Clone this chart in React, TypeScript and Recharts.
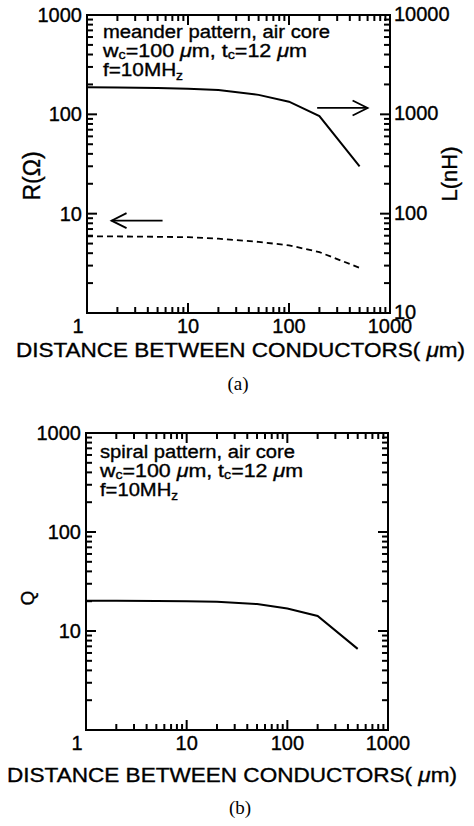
import React from "react";
import { LineChart, Line, XAxis, YAxis, ReferenceArea, ReferenceLine } from "recharts";

// distance between conductors (µm)
const distance = [1, 2, 5, 10, 20, 50, 100, 200, 500];
// (a) meander pattern
const resistance = [5.9, 5.9, 5.85, 5.8, 5.6, 5.2, 4.8, 4.1, 2.85];
const inductance = [1870, 1860, 1840, 1810, 1760, 1570, 1340, 960, 300];
// (b) spiral pattern
const quality = [20.2, 20.2, 20.1, 20.0, 19.7, 18.7, 16.9, 14.2, 6.6];

const decadeTicks = [
  1, 2, 3, 4, 5, 6, 7, 8, 9, 10, 20, 30, 40, 50, 60, 70, 80, 90, 100, 200, 300,
  400, 500, 600, 700, 800, 900, 1000,
];
const inductanceTicks = [
  10, 20, 30, 40, 50, 60, 70, 80, 90, 100, 200, 300, 400, 500, 600, 700, 800,
  900, 1000, 2000, 3000, 4000, 5000, 6000, 7000, 8000, 9000, 10000,
];
const xLabels = [1, 10, 100, 1000];
const leftLabels = [10, 100, 1000];
const inductanceLabels = [10, 100, 1000, 10000];

const dataA = distance.map((d, i) => ({ d, R: resistance[i], L: inductance[i] }));
const dataB = distance.map((d, i) => ({ d, Q: quality[i] }));

const FONT = "'Liberation Sans', Arial, Helvetica, sans-serif";
const SERIF = "'Liberation Serif', 'Times New Roman', serif";
const INK = { fill: "#000", stroke: "#000", strokeWidth: 0.35 };

type Box = { left: number; right: number; top: number; bottom: number };

const boxA: Box = { left: 87, right: 390, top: 15, bottom: 313 };
const boxB: Box = { left: 86, right: 388, top: 15, bottom: 312 };

function isMajor(v: number) {
  const l = Math.log10(v);
  return Math.abs(l - Math.round(l)) < 1e-6;
}

function bottomTick(box: Box, labels: number[]) {
  return (props: any) => {
    const { x, payload } = props;
    const v = payload.value;
    const len = isMajor(v) ? 10 : 6;
    return (
      <g>
        <line x1={x} x2={x} y1={box.bottom} y2={box.bottom - len} stroke="#000" strokeWidth={2} />
        <line x1={x} x2={x} y1={box.top} y2={box.top + len} stroke="#000" strokeWidth={2} />
        {labels.includes(v) && (
          <text
            x={x + (v === 1 ? -9 : 0)}
            y={box.bottom + 20}
            textAnchor="middle"
            fontSize={20}
            fontFamily={FONT}
            {...INK}
          >
            {v}
          </text>
        )}
      </g>
    );
  };
}

function leftTick(box: Box, labels: number[], mirror: boolean) {
  return (props: any) => {
    const { y, payload } = props;
    const v = payload.value;
    const len = isMajor(v) ? 10 : 6;
    return (
      <g>
        <line x1={box.left} x2={box.left + len} y1={y} y2={y} stroke="#000" strokeWidth={2} />
        {mirror && (
          <line x1={box.right} x2={box.right - len} y1={y} y2={y} stroke="#000" strokeWidth={2} />
        )}
        {labels.includes(v) && (
          <text x={box.left - 5} y={y + 7} textAnchor="end" fontSize={20} fontFamily={FONT} {...INK}>
            {v}
          </text>
        )}
      </g>
    );
  };
}

function rightTick(box: Box, labels: number[]) {
  return (props: any) => {
    const { y, payload } = props;
    const v = payload.value;
    const len = isMajor(v) ? 10 : 6;
    return (
      <g>
        <line x1={box.right} x2={box.right - len} y1={y} y2={y} stroke="#000" strokeWidth={2} />
        {labels.includes(v) && (
          <text x={box.right + 4} y={y + 6} textAnchor="start" fontSize={20} fontFamily={FONT} {...INK}>
            {v}
          </text>
        )}
      </g>
    );
  };
}

function XTitle({ tx, ty, len }: any) {
  return (
    <text
      x={tx}
      y={ty}
      textLength={len}
      lengthAdjust="spacingAndGlyphs"
      fontSize={20}
      fontFamily={FONT}
      {...INK}
    >
      DISTANCE BETWEEN CONDUCTORS( <tspan fontStyle="italic">μ</tspan>m)
    </text>
  );
}

function YTitle({ cx, cy, size, text }: any) {
  return (
    <text
      x={cx}
      y={cy}
      transform={`rotate(-90 ${cx} ${cy})`}
      textAnchor="middle"
      dominantBaseline="central"
      fontSize={size}
      fontFamily={FONT}
      {...INK}
    >
      {text}
    </text>
  );
}

function arrowShape(props: any) {
  const { x1, y1, x2, y2 } = props;
  const ang = Math.atan2(y2 - y1, x2 - x1);
  const hl = 15;
  const hw = 7.5;
  const bx = x2 - hl * Math.cos(ang);
  const by = y2 - hl * Math.sin(ang);
  const px = -Math.sin(ang) * hw;
  const py = Math.cos(ang) * hw;
  return (
    <g>
      <line x1={x1} y1={y1} x2={x2} y2={y2} stroke="#000" strokeWidth={1.8} />
      <polyline
        points={`${bx + px},${by + py} ${x2},${y2} ${bx - px},${by - py}`}
        fill="none"
        stroke="#000"
        strokeWidth={1.8}
      />
    </g>
  );
}

function Note({ x, y, first, lens }: { x: number; y: number; first: string; lens: number[] }) {
  const t = { fontSize: 18, fontFamily: FONT, ...INK };
  return (
    <g>
      <text x={x} y={y} textLength={lens[0]} lengthAdjust="spacingAndGlyphs" {...t}>
        {first}
      </text>
      <text x={x} y={y + 19} textLength={lens[1]} lengthAdjust="spacingAndGlyphs" {...t}>
        w<tspan fontSize={12} dy={2}>c</tspan>
        <tspan dy={-2}>=100 </tspan>
        <tspan fontStyle="italic">μ</tspan>m, t<tspan fontSize={12} dy={2}>c</tspan>
        <tspan dy={-2}>=12 </tspan>
        <tspan fontStyle="italic">μ</tspan>m
      </text>
      <text x={x} y={y + 38} textLength={lens[2]} lengthAdjust="spacingAndGlyphs" {...t}>
        f=10MH<tspan fontSize={12} dy={4}>z</tspan>
      </text>
    </g>
  );
}

export default function App() {
  return (
    <div style={{ position: "absolute", left: 0, top: 0, width: 474, height: 826, background: "#fff" }}>
      <div style={{ position: "absolute", left: 0, top: 0 }}>
        <LineChart width={474} height={400} data={dataA} margin={{ top: 15, right: 0, bottom: 0, left: 0 }}>
          <XAxis
            xAxisId="x"
            dataKey="d"
            type="number"
            scale="log"
            domain={[1, 1000]}
            ticks={decadeTicks}
            interval={0}
            tickLine={false}
            axisLine={false}
            tickSize={0}
            height={87}
            tick={bottomTick(boxA, xLabels)}
          />
          <YAxis
            yAxisId="R"
            orientation="left"
            type="number"
            scale="log"
            domain={[1, 1000]}
            ticks={decadeTicks}
            interval={0}
            tickLine={false}
            axisLine={false}
            tickSize={0}
            width={87}
            tick={leftTick(boxA, leftLabels, false)}
          />
          <YAxis
            yAxisId="L"
            orientation="right"
            type="number"
            scale="log"
            domain={[10, 10000]}
            ticks={inductanceTicks}
            interval={0}
            tickLine={false}
            axisLine={false}
            tickSize={0}
            width={84}
            tick={rightTick(boxA, inductanceLabels)}
          />
          <ReferenceArea
            xAxisId="x"
            yAxisId="R"
            x1={1}
            x2={1000}
            y1={1}
            y2={1000}
            fill="none"
            stroke="#000"
            strokeWidth={2}
          />
          <Line
            xAxisId="x"
            yAxisId="L"
            type="linear"
            dataKey="L"
            stroke="#000"
            strokeWidth={2}
            dot={false}
            isAnimationActive={false}
          />
          <Line
            xAxisId="x"
            yAxisId="R"
            type="linear"
            dataKey="R"
            stroke="#000"
            strokeWidth={1.8}
            strokeDasharray="6 4"
            dot={false}
            isAnimationActive={false}
          />
          <ReferenceLine
            xAxisId="x"
            yAxisId="R"
            segment={[{ x: 190, y: 116 }, { x: 600, y: 116 }]}
            shape={arrowShape}
          />
          <ReferenceLine
            xAxisId="x"
            yAxisId="R"
            segment={[{ x: 5.6, y: 8.5 }, { x: 1.75, y: 8.5 }]}
            shape={arrowShape}
          />
        </LineChart>
      </div>

      <div style={{ position: "absolute", left: 0, top: 418 }}>
        <LineChart width={474} height={400} data={dataB} margin={{ top: 15, right: 86, bottom: 0, left: 0 }}>
          <XAxis
            xAxisId="x"
            dataKey="d"
            type="number"
            scale="log"
            domain={[1, 1000]}
            ticks={decadeTicks}
            interval={0}
            tickLine={false}
            axisLine={false}
            tickSize={0}
            height={88}
            tick={bottomTick(boxB, xLabels)}
          />
          <YAxis
            yAxisId="Q"
            orientation="left"
            type="number"
            scale="log"
            domain={[1, 1000]}
            ticks={decadeTicks}
            interval={0}
            tickLine={false}
            axisLine={false}
            tickSize={0}
            width={86}
            tick={leftTick(boxB, leftLabels, true)}
          />
          <ReferenceArea
            xAxisId="x"
            yAxisId="Q"
            x1={1}
            x2={1000}
            y1={1}
            y2={1000}
            fill="none"
            stroke="#000"
            strokeWidth={2}
          />
          <Line
            xAxisId="x"
            yAxisId="Q"
            type="linear"
            dataKey="Q"
            stroke="#000"
            strokeWidth={2}
            dot={false}
            isAnimationActive={false}
          />
        </LineChart>
      </div>

      <svg
        width={474}
        height={826}
        style={{ position: "absolute", left: 0, top: 0, pointerEvents: "none" }}
      >
        <XTitle tx={16} ty={357} len={449} />
        <YTitle cx={32} cy={176} size={23} text="R(Ω)" />
        <YTitle cx={449} cy={174} size={22} text="L(nH)" />
        <XTitle tx={7} ty={782} len={450} />
        <YTitle cx={27} cy={598} size={19} text="Q" />
        <Note x={103} y={38} first="meander pattern, air core" lens={[227, 204, 80]} />
        <Note x={100} y={458} first="spiral pattern, air core" lens={[195, 203, 78]} />
        <text x={238} y={390} textAnchor="middle" fontSize={19} fontFamily={SERIF} fill="#000">
          (a)
        </text>
        <text x={240} y={814} textAnchor="middle" fontSize={19} fontFamily={SERIF} fill="#000">
          (b)
        </text>
      </svg>
    </div>
  );
}
